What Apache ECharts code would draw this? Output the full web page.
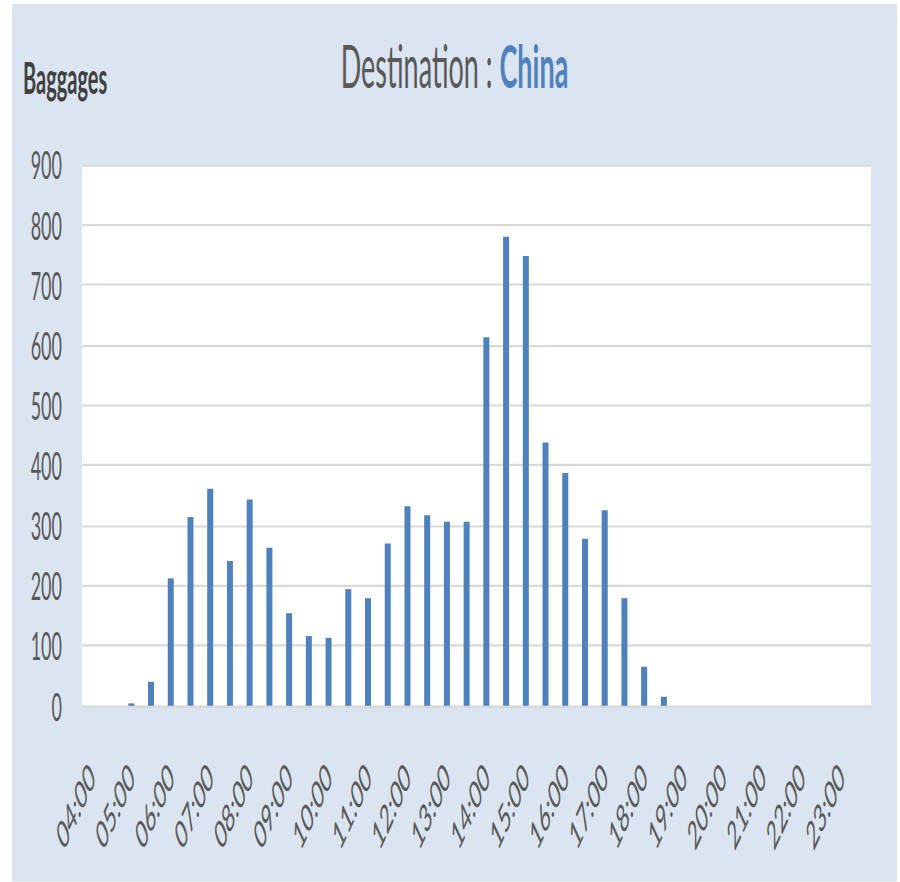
<!DOCTYPE html>
<html>
<head>
<meta charset="utf-8">
<script src="https://cdn.jsdelivr.net/npm/echarts@6/dist/echarts.min.js"></script>
<style>
    html, body { margin: 0; padding: 0; background: #fff; }
    /* the source picture is an Excel chart stretched ~2.2x vertically, so draw it flat and stretch it the same way */
    #main {
        position: absolute;
        left: 12px;
        top: 4px;
        width: 885px;
        height: 399px;
        transform-origin: 0 0;
        transform: scaleY(2.2);
    }
</style>
</head>
<body>
<div id="main"></div>
<script>
var Categories = [
    '04:00', '04:30', '05:00', '05:30', '06:00', '06:30', '07:00', '07:30',
    '08:00', '08:30', '09:00', '09:30', '10:00', '10:30', '11:00', '11:30',
    '12:00', '12:30', '13:00', '13:30', '14:00', '14:30', '15:00', '15:30',
    '16:00', '16:30', '17:00', '17:30', '18:00', '18:30', '19:00', '19:30',
    '20:00', '20:30', '21:00', '21:30', '22:00', '22:30', '23:00', '23:30'
];
var Baggages = [
    0, 0, 4, 40, 212, 314, 361, 241,
    343, 263, 154, 116, 113, 194, 179, 270,
    332, 317, 306, 306, 613, 780, 748, 438,
    387, 278, 325, 179, 65, 15, 0, 0,
    0, 0, 0, 0, 0, 0, 0, 0
];
var YTicks = [0, 900, 100]; // min, max, interval

var FontName = 'Lato, "Open Sans", sans-serif';
var main = document.getElementById('main');
var myChart = echarts.init(main, null, { renderer: 'svg' });
myChart.setOption({
    backgroundColor: '#dbe5f1',
    animation: false,
    title: [{
            text: 'Destination : {b|China}',
            left: 'center',
            top: 9,
            textStyle: {
                fontFamily: FontName,
                fontSize: 27,
                fontWeight: 'normal',
                color: '#595959',
                rich: {
                    b: { fontFamily: FontName, fontSize: 27, fontWeight: 'bold', color: '#4f81bd' }
                }
            }
        }, {
            text: 'Baggages',
            left: 6,
            top: 18,
            textStyle: { fontFamily: FontName, fontSize: 20, fontWeight: 'bold', color: '#404040' }
        }],
    grid: {
        left: 70,
        right: 26,
        top: 73,
        bottom: 80,
        show: true,
        backgroundColor: '#fff',
        borderWidth: 0
    },
    xAxis: [{
            type: 'category',
            data: Categories,
            axisLine: { show: true, lineStyle: { color: '#d9d9d9', width: 1 } },
            axisTick: { show: false },
            axisLabel: {
                interval: 1,
                rotate: 45,
                margin: 29,
                fontFamily: FontName,
                fontSize: 18,
                color: '#595959'
            }
        }],
    yAxis: [{
            type: 'value',
            min: YTicks[0],
            max: YTicks[1],
            interval: YTicks[2],
            axisLine: { show: false },
            axisTick: { show: false },
            splitLine: { lineStyle: { color: '#d9d9d9', width: 1 } },
            axisLabel: {
                margin: 20,
                fontFamily: FontName,
                fontSize: 18,
                color: '#595959'
            }
        }],
    series: [{
            name: 'Baggages',
            type: 'bar',
            barWidth: 6,
            itemStyle: { color: '#4f81bd' },
            data: Baggages
        }]
});
</script>
</body>
</html>
